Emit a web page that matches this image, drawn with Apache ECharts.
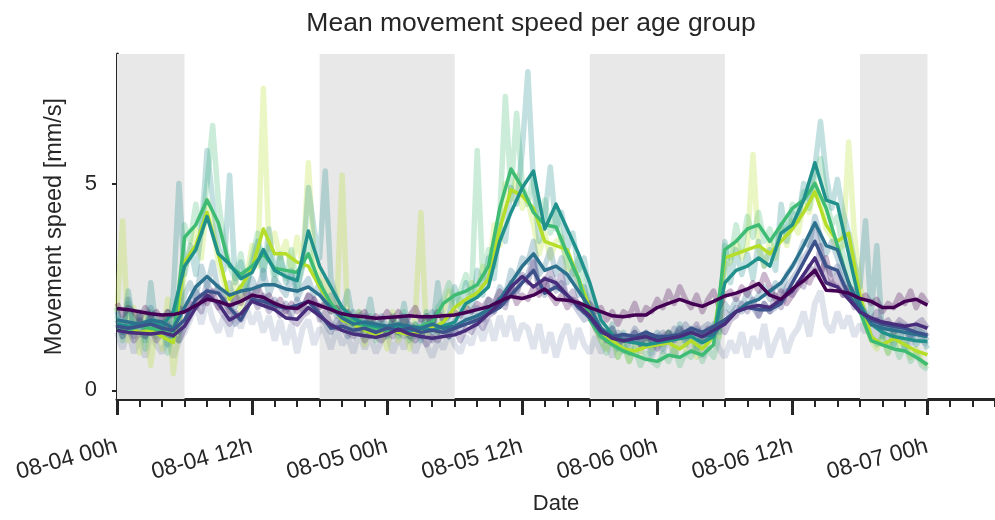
<!DOCTYPE html>
<html>
<head>
<meta charset="utf-8">
<title>Mean movement speed per age group</title>
<script src="https://cdn.jsdelivr.net/npm/echarts@6/dist/echarts.min.js"></script>
<style>
  html, body { margin: 0; padding: 0; background: #ffffff; }
  #chart { width: 995px; height: 520px; }
</style>
</head>
<body>
<div id="chart"></div>
<script>
// Hours since 08-04 00h; major ticks every 12 h.
const tickHours = [0, 12, 24, 36, 48, 60, 72];
const tickLabels = ['08-04 00h', '08-04 12h', '08-05 00h', '08-05 12h', '08-06 00h', '08-06 12h', '08-07 00h'];

// Lights-off periods (start hour, end hour)
const nightBands = [[0, 6], [18, 30], [42, 54], [66, 72]];

// Age group colours (viridis, oldest -> youngest)
const groupColors = ['#440154', '#472d7b', '#3b528b', '#2c728e', '#21918c', '#3fbc73', '#b5de2b'];
const extraRawColor = '#3b528b';

// Smoothed mean speed per group, hourly from 08-04 00h to 08-07 00h (mm/s)
const smooth0 = [1.98,1.95,1.9,1.85,1.82,1.83,1.9,2.05,2.2,2.15,
  2.05,2.15,2.3,2.25,2.1,2.0,1.98,2.15,2.05,1.95,
  1.85,1.8,1.78,1.74,1.76,1.78,1.8,1.78,1.78,1.8,
  1.82,1.88,1.95,2.02,2.15,2.27,2.22,2.3,2.45,2.2,
  2.18,2.12,2.0,1.9,1.8,1.78,1.82,1.82,2.0,2.1,
  2.2,2.1,2.03,2.15,2.28,2.35,2.45,2.58,2.3,2.2,
  2.45,2.65,2.9,2.42,2.4,2.35,2.22,2.15,2.0,2.0,
  2.15,2.2,2.06];
const smooth1 = [1.45,1.4,1.38,1.36,1.4,1.32,1.55,2.0,2.3,2.1,
  1.7,1.85,2.15,2.05,1.95,1.75,1.72,2.0,1.8,1.58,
  1.45,1.36,1.32,1.28,1.35,1.48,1.36,1.3,1.26,1.3,
  1.34,1.45,1.6,1.85,2.1,2.5,2.75,2.5,2.7,2.6,
  2.3,2.05,1.8,1.45,1.26,1.2,1.25,1.3,1.2,1.25,
  1.3,1.4,1.3,1.45,1.6,1.9,2.0,2.05,2.0,2.2,
  2.4,2.8,3.2,2.6,2.5,2.2,1.9,1.75,1.65,1.6,
  1.55,1.6,1.5];
const smooth2 = [1.55,1.5,1.55,1.6,1.5,1.45,1.7,2.2,2.4,2.35,
  2.0,1.7,2.2,2.15,2.05,1.98,2.05,2.15,1.85,1.5,
  1.55,1.45,1.5,1.4,1.5,1.45,1.5,1.4,1.45,1.4,
  1.5,1.6,1.7,1.85,2.0,2.3,2.6,2.9,2.35,2.5,
  2.3,2.0,1.75,1.4,1.3,1.35,1.3,1.4,1.3,1.3,
  1.35,1.5,1.4,1.55,1.7,1.9,2.0,1.95,1.95,2.1,
  2.6,3.1,3.6,3.0,2.9,2.3,1.9,1.7,1.6,1.55,
  1.5,1.4,1.34];
const smooth3 = [1.7,1.65,1.6,1.7,1.65,1.5,2.0,2.5,2.75,2.5,
  2.3,2.4,2.45,2.55,2.55,2.45,2.4,2.5,2.3,2.0,
  1.75,1.6,1.65,1.6,1.55,1.6,1.55,1.5,1.6,1.5,
  1.55,1.7,1.8,1.95,2.2,2.6,3.0,3.3,2.9,3.0,
  2.8,2.4,2.0,1.5,1.3,1.2,1.25,1.3,1.25,1.3,
  1.35,1.4,1.3,1.35,1.7,1.9,2.1,2.2,2.4,2.6,
  3.0,3.5,4.05,3.5,3.4,2.6,2.0,1.6,1.5,1.45,
  1.4,1.35,1.3];
const smooth4 = [1.6,1.55,1.6,1.65,1.55,1.9,3.0,3.4,4.2,3.3,
  3.05,2.7,2.85,3.4,2.9,2.75,2.65,3.85,3.0,2.5,
  2.0,1.75,1.6,1.55,1.5,1.55,1.45,1.5,1.45,1.55,
  1.65,2.1,2.25,2.5,3.6,4.3,4.9,5.3,3.9,4.5,
  3.9,3.3,2.6,1.7,1.35,1.2,1.15,1.1,1.15,1.2,
  1.25,1.3,1.15,1.3,2.6,2.9,3.0,3.2,3.0,3.8,
  4.0,4.6,5.5,4.6,4.5,3.3,2.1,1.6,1.4,1.3,
  1.25,1.2,1.18];
const smooth5 = [1.5,1.45,1.55,1.5,1.45,1.3,3.7,4.0,4.6,4.05,
  3.0,2.8,3.0,3.3,2.95,2.9,2.85,3.3,2.6,2.1,
  1.8,1.65,1.55,1.5,1.45,1.6,1.5,1.55,1.65,2.1,
  2.3,2.4,2.55,3.0,4.4,5.35,4.9,4.3,4.0,3.95,
  3.3,2.7,1.7,1.3,1.1,0.95,0.85,0.75,0.7,0.85,
  0.8,0.95,0.85,1.1,3.4,3.6,3.9,4.0,3.6,4.0,
  4.4,4.6,5.0,4.4,3.5,2.6,1.9,1.2,1.1,1.0,
  0.95,0.8,0.62];
const smooth6 = [1.5,1.5,1.4,1.45,1.3,1.15,3.1,3.5,4.3,3.3,
  2.2,2.5,2.95,3.9,3.3,3.3,3.1,3.0,2.5,2.1,
  1.7,1.6,1.45,1.35,1.5,1.4,1.35,1.4,1.5,1.65,
  2.0,2.2,2.35,2.7,3.9,4.85,4.7,4.4,3.6,3.5,
  3.4,2.7,2.0,1.4,1.2,1.0,0.95,1.05,1.1,1.15,
  1.0,1.2,1.0,1.3,3.2,3.3,3.4,3.5,3.3,3.6,
  3.9,4.3,4.8,4.0,3.6,3.8,2.3,1.3,1.1,1.25,
  1.1,0.95,0.86];

// Unsmoothed mean speed per group, every 30 min (mm/s)
const raw0 = [2.1,1.8,2.0,1.9,1.7,2.0,1.8,1.9,1.7,1.9,1.8,2.0,1.9,
  2.1,2.0,2.3,2.1,2.4,2.0,2.2,1.9,2.3,2.1,2.4,2.2,
  2.5,2.2,2.3,2.0,2.2,1.9,2.1,1.9,2.0,2.3,2.2,2.0,
  2.1,1.9,2.0,1.8,1.9,1.7,1.8,1.9,1.6,1.8,1.7,1.9,
  1.7,1.9,1.6,1.8,2.0,1.7,1.8,1.6,1.9,1.7,1.8,1.9,
  1.8,2.0,1.9,2.1,2.0,2.2,2.1,2.4,2.2,2.5,2.1,2.3,
  2.2,2.5,2.3,2.7,2.3,2.1,2.3,2.0,2.2,2.1,1.9,2.1,
  1.9,2.0,1.7,1.9,1.6,1.9,1.8,2.1,1.7,2.0,1.9,2.2,
  2.0,2.4,2.1,2.5,2.2,2.0,2.3,1.9,2.2,2.4,2.0,2.3,
  2.4,2.2,2.5,2.3,2.6,2.4,2.8,2.5,2.2,2.4,2.1,2.3,
  2.5,2.7,2.6,2.9,2.8,3.2,2.6,2.5,2.3,2.5,2.4,2.2,
  2.3,2.1,2.2,1.9,2.1,2.0,2.3,2.1,2.4,2.0,2.3,2.1];
const raw1 = [1.6,1.3,1.5,1.2,1.4,1.3,1.5,1.2,1.4,1.6,1.3,1.2,1.5,
  1.8,2.1,1.9,2.4,2.2,2.0,1.8,1.6,1.9,1.7,2.0,2.3,
  2.0,2.2,1.9,2.1,1.8,2.0,1.7,1.6,1.8,1.9,2.2,1.7,
  1.9,1.6,1.5,1.7,1.4,1.3,1.5,1.2,1.4,1.3,1.2,1.4,
  1.3,1.6,1.5,1.3,1.2,1.4,1.1,1.3,1.2,1.4,1.3,1.5,
  1.2,1.5,1.4,1.7,1.5,1.8,1.9,2.2,2.0,2.6,2.3,2.8,
  2.6,3.1,2.4,2.6,2.9,2.5,2.8,2.2,2.4,2.0,2.1,1.8,
  1.6,1.4,1.2,1.5,1.1,1.3,1.2,1.4,1.1,1.3,1.2,1.0,
  1.3,1.4,1.2,1.5,1.3,1.4,1.6,1.2,1.5,1.3,1.6,1.4,
  1.7,1.8,2.1,1.9,2.2,1.8,2.1,1.9,2.3,2.0,2.4,2.3,
  2.6,2.5,3.0,2.8,3.5,2.7,2.5,2.8,2.3,2.4,2.0,2.1,
  1.8,1.7,1.9,1.6,1.7,1.5,1.7,1.6,1.4,1.6,1.7,1.5];
const raw2 = [1.7,1.4,1.6,1.3,1.7,1.5,1.8,1.4,1.6,1.3,1.5,1.4,1.6,
  2.0,2.4,2.1,2.6,2.3,2.5,2.1,1.9,1.6,1.8,2.0,2.4,
  2.1,2.3,2.0,2.2,1.9,2.1,1.8,2.2,1.9,2.3,2.1,1.8,
  1.6,1.4,1.7,1.5,1.3,1.6,1.4,1.5,1.3,1.6,1.4,1.5,
  1.6,1.4,1.3,1.6,1.5,1.3,1.5,1.2,1.4,1.6,1.3,1.5,
  1.4,1.7,1.6,1.8,1.7,2.0,1.9,2.2,2.1,2.5,2.4,2.7,
  2.8,3.2,2.5,2.3,2.7,2.4,2.6,2.2,2.1,1.9,1.7,1.8,
  1.5,1.3,1.4,1.2,1.4,1.3,1.2,1.5,1.3,1.4,1.2,1.3,
  1.4,1.2,1.5,1.3,1.6,1.4,1.3,1.5,1.6,1.4,1.7,1.9,
  1.8,2.0,1.9,2.1,2.0,1.8,2.1,1.9,2.0,2.2,2.5,2.7,
  2.9,3.2,3.4,3.9,3.3,3.0,2.8,3.0,2.6,2.3,2.1,1.9,
  1.8,1.6,1.7,1.5,1.6,1.4,1.6,1.5,1.3,1.4,1.5,1.3];
const raw3 = [1.9,1.4,2.2,1.5,1.8,1.3,2.0,1.6,1.4,1.9,1.3,1.7,2.3,
  2.6,2.2,3.0,2.5,3.1,2.4,2.2,2.6,2.0,2.5,2.3,2.7,
  2.4,2.9,2.3,2.7,2.5,2.3,2.8,2.2,2.5,2.7,2.3,2.6,
  2.1,2.3,1.8,2.0,1.6,1.9,1.5,1.8,1.7,1.4,1.8,1.5,
  1.7,1.4,1.8,1.5,1.3,1.7,1.5,1.9,1.4,1.6,1.3,1.7,
  1.6,1.9,1.7,2.0,1.8,2.2,2.0,2.5,2.3,2.9,2.7,3.2,
  3.1,3.6,2.8,3.0,3.4,2.8,3.2,2.6,2.9,2.3,2.5,2.0,
  1.7,1.4,1.3,1.5,1.1,1.3,1.2,1.4,1.1,1.3,1.2,1.4,
  1.2,1.4,1.3,1.5,1.2,1.4,1.5,1.2,1.3,1.5,1.9,2.1,
  1.9,2.2,2.0,2.4,2.1,2.3,2.5,2.2,2.6,2.4,2.8,3.0,
  3.2,3.6,3.5,4.2,3.7,3.3,3.6,3.2,2.8,2.5,2.3,2.1,
  1.9,1.6,1.7,1.5,1.6,1.4,1.5,1.4,1.3,1.5,1.4,1.2];
const raw4 = [2.0,1.3,2.4,1.5,1.9,1.2,2.6,1.4,1.8,1.1,2.3,5.0,2.8,
  3.5,2.8,3.9,5.8,4.6,3.5,2.9,5.2,2.6,3.1,2.5,3.0,
  3.6,2.7,3.9,2.8,3.3,2.6,2.9,2.4,3.0,4.9,3.9,3.2,
  5.3,2.7,2.2,1.9,2.4,1.6,1.9,1.5,2.2,1.4,1.7,1.3,
  1.8,1.4,2.1,1.3,1.6,1.2,1.9,1.4,2.6,1.5,1.8,2.5,
  2.0,2.6,1.9,2.9,2.3,3.2,2.7,4.0,3.6,4.9,4.5,5.8,
  7.7,5.0,3.6,4.2,5.4,3.9,4.3,3.4,3.8,2.9,3.2,2.3,
  1.9,1.5,1.2,1.6,1.0,1.4,0.9,1.3,1.1,1.4,0.9,1.3,
  1.0,1.4,1.2,1.6,1.1,1.5,1.0,1.3,1.2,1.6,1.4,3.6,
  2.6,3.4,2.8,3.3,2.7,3.6,3.0,3.4,2.9,4.5,3.6,4.3,
  4.1,5.0,4.6,5.4,6.5,5.2,4.4,5.1,4.3,3.8,3.1,2.5,
  4.1,1.8,3.5,1.3,1.6,1.1,1.5,1.0,1.4,1.1,1.3,1.0];
const raw5 = [1.8,1.2,2.1,1.4,1.7,1.0,1.9,1.3,1.6,0.9,1.5,1.2,4.0,
  3.6,4.5,3.8,5.0,6.4,4.6,3.6,3.0,2.7,3.3,2.5,3.2,
  3.8,2.9,3.5,2.6,3.2,2.7,3.4,2.5,3.1,3.6,2.8,2.6,
  2.2,1.9,2.0,1.6,1.8,1.4,1.7,1.3,1.8,1.2,1.6,1.4,
  1.7,1.3,1.9,1.2,1.6,1.4,1.8,1.5,2.0,2.2,2.6,2.1,
  2.4,2.8,2.3,5.8,2.7,3.4,3.0,4.2,7.1,4.8,6.7,5.0,
  4.5,5.2,4.1,4.6,3.8,4.3,3.6,3.1,2.8,3.2,2.4,1.9,
  1.5,1.2,0.9,1.3,0.8,1.1,0.7,1.0,0.6,0.9,0.7,0.6,
  0.9,0.7,1.0,0.6,0.9,0.8,1.1,0.7,1.0,0.8,1.3,3.5,
  3.2,4.0,3.4,4.2,3.7,4.3,3.6,3.9,3.4,4.0,3.8,4.5,
  4.2,4.8,4.4,5.2,5.6,4.7,4.0,4.2,3.3,3.0,2.4,2.0,
  1.6,1.3,1.1,1.3,0.9,1.2,0.8,1.1,0.7,0.9,0.6,0.5];
const raw6 = [1.9,4.1,1.2,2.0,0.9,1.8,0.6,1.7,1.0,2.2,0.4,1.5,2.9,
  3.4,3.9,3.2,4.6,4.0,3.1,2.6,2.0,2.8,1.9,2.7,3.5,
  3.0,7.3,3.4,3.8,3.2,3.6,2.9,3.7,3.0,5.5,3.2,2.7,
  2.6,2.2,1.9,5.2,1.6,1.4,1.9,1.1,1.7,1.3,1.5,1.0,
  1.9,1.2,1.6,1.0,1.8,4.3,1.3,1.7,1.4,1.9,2.4,1.8,
  2.2,2.0,2.6,2.3,3.0,2.6,4.0,3.5,5.0,4.6,5.2,4.4,
  4.6,4.0,3.3,3.8,3.2,3.6,3.7,2.9,3.0,2.6,2.3,1.8,
  1.5,1.2,1.0,1.4,0.8,1.2,0.7,1.1,0.9,1.3,1.0,1.2,
  1.1,1.4,0.9,1.2,1.0,1.4,0.8,1.2,1.1,1.5,1.3,3.0,
  3.1,3.6,3.2,3.5,5.7,3.4,3.0,3.6,3.2,3.9,3.5,4.1,
  3.8,4.5,4.3,5.0,4.6,3.9,3.7,3.4,3.5,6.0,3.8,2.6,
  1.6,1.2,1.0,1.3,0.9,1.4,1.1,1.2,0.8,1.0,0.7,0.6];
const raw7 = [1.4,1.0,1.5,0.9,1.3,0.8,1.4,1.1,0.9,1.3,0.8,1.2,1.4,
  1.7,2.1,1.6,2.2,1.7,1.4,1.8,1.3,1.9,1.5,2.0,1.6,
  1.9,1.4,1.8,1.2,1.7,1.1,1.6,0.9,1.5,1.7,1.1,1.5,
  1.4,1.0,1.5,1.1,1.3,0.9,1.4,1.0,1.3,0.9,1.2,1.4,
  0.9,1.3,1.0,1.4,0.9,1.3,1.1,0.8,1.2,1.0,1.4,1.1,
  0.9,1.3,1.1,1.6,1.2,1.7,1.2,1.8,1.3,1.8,1.2,1.6,
  1.5,1.0,1.6,0.9,1.4,0.8,1.3,1.6,1.0,1.5,1.1,0.9,
  1.3,0.9,1.2,0.8,1.3,0.9,1.2,1.4,0.9,1.3,0.8,1.2,
  0.9,1.3,0.8,1.2,1.4,0.9,1.3,0.8,1.2,1.4,1.0,0.8,
  1.2,0.9,1.4,0.8,1.3,1.0,1.6,0.8,1.2,1.5,0.9,1.3,
  1.5,1.9,1.3,2.1,2.4,1.6,1.4,1.9,1.5,1.8,1.3,1.6,
  1.4,1.7,1.2,1.5,1.1,1.4,1.2,1.6,1.1,1.4,1.2,1.1];

const smoothSets = [smooth0, smooth1, smooth2, smooth3, smooth4, smooth5, smooth6];
const rawSets = [raw0, raw1, raw2, raw3, raw4, raw5, raw6];

function toPairs(values, step) {
  return values.map((v, i) => [i * step, v]);
}

const series = [];

// Shaded dark phases
series.push({
  type: 'line',
  data: [],
  silent: true,
  z: 0,
  markArea: {
    silent: true,
    itemStyle: { color: '#e8e8e8' },
    data: nightBands.map(b => [{ xAxis: b[0] }, { xAxis: b[1] }])
  }
});

// Unsmoothed traces, faint and wide
series.push({
  type: 'line', name: 'raw-extra', data: toPairs(raw7, 0.5),
  showSymbol: false, silent: true, z: 1,
  lineStyle: { color: extraRawColor, width: 6, opacity: 0.16 }
});
for (let g = rawSets.length - 1; g >= 0; g--) {
  series.push({
    type: 'line', name: 'raw-' + g, data: toPairs(rawSets[g], 0.5),
    showSymbol: false, silent: true, z: 1,
    lineStyle: { color: groupColors[g], width: 5.5, opacity: 0.28, join: 'round' }
  });
}

// Smoothed means on top
for (let g = smoothSets.length - 1; g >= 0; g--) {
  series.push({
    type: 'line', name: 'mean-' + g, data: toPairs(smoothSets[g], 1),
    showSymbol: false, silent: true, z: 3,
    lineStyle: { color: groupColors[g], width: 3.5, join: 'round' }
  });
}

const textColor = '#262626';
const font = 'Liberation Sans, Arial, sans-serif';
const chart = echarts.init(document.getElementById('chart'), null, { renderer: 'canvas' });
chart.setOption({
  animation: false,
  backgroundColor: '#ffffff',
  title: {
    text: 'Mean movement speed per age group',
    left: 526, top: 5, textAlign: 'center',
    textStyle: { fontFamily: font, fontSize: 26.5, fontWeight: 'normal', color: textColor }
  },
  grid: { left: 117, right: 0, top: 54, bottom: 119 },
  xAxis: [
    {
      type: 'value', min: 0, max: 78, interval: 2,
      axisLine: { show: true, onZero: false, lineStyle: { color: textColor, width: 3 } },
      axisTick: { show: true, inside: false, length: 8, lineStyle: { color: textColor, width: 2 } },
      axisLabel: { show: false },
      splitLine: { show: false },
      name: 'Date', nameLocation: 'middle', nameGap: 94,
      nameTextStyle: { fontFamily: font, fontSize: 22, color: textColor }
    },
    {
      type: 'value', min: 0, max: 78, position: 'bottom',
      axisLine: { show: false, onZero: false },
      axisTick: { show: true, length: 16, customValues: tickHours, lineStyle: { color: textColor, width: 3 } },
      axisLabel: {
        show: true, customValues: tickHours, rotate: 15, margin: 47,
        fontFamily: font, fontSize: 23, color: textColor,
        formatter: v => { const i = tickHours.indexOf(v); return i >= 0 ? tickLabels[i] : ''; }
      },
      splitLine: { show: false }
    }
  ],
  yAxis: {
    type: 'value', min: -0.21, max: 8.13,
    axisLine: { show: true, lineStyle: { color: textColor, width: 3 } },
    axisTick: { show: true, length: 5, customValues: [0, 5], lineStyle: { color: textColor, width: 2 } },
    axisLabel: {
      customValues: [0, 5], margin: 20,
      fontFamily: font, fontSize: 22, color: textColor
    },
    splitLine: { show: false },
    name: 'Movement speed [mm/s]', nameLocation: 'middle', nameGap: 50,
    nameTextStyle: { fontFamily: font, fontSize: 23.5, color: textColor }
  },
  series: series
});
</script>
</body>
</html>
